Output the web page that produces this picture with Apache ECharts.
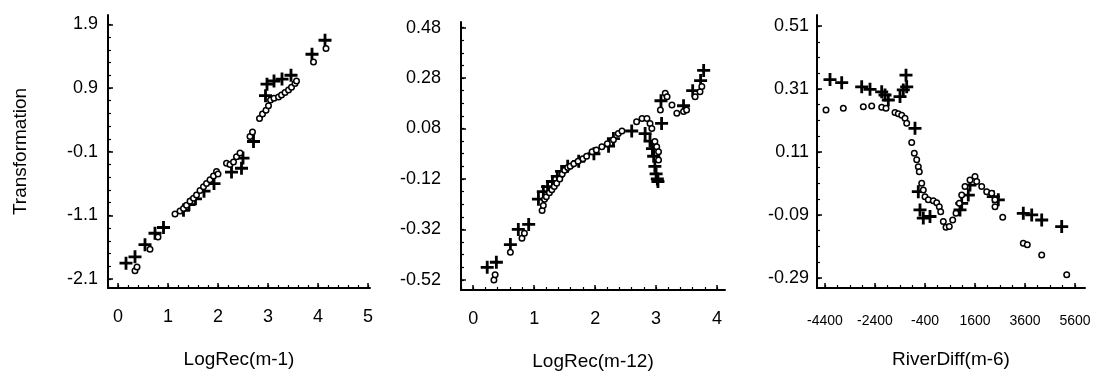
<!DOCTYPE html>
<html>
<head>
<meta charset="utf-8">
<script src="https://cdn.jsdelivr.net/npm/echarts@6/dist/echarts.min.js"></script>
<style>
html,body{margin:0;padding:0;background:#fff;}
#chart{width:1094px;height:379px;}
</style>
</head>
<body>
<div id="chart"></div>
<script>
// ---------- Data ----------
const p1Plus = [[0.16,-1.85],[0.34,-1.75],[0.54,-1.56],[0.74,-1.38],[0.91,-1.29],[1.31,-1.02],[1.42,-0.93],[1.55,-0.84],[1.72,-0.72],[1.92,-0.6],[2.27,-0.42],[2.47,-0.36],[2.5,-0.2],[2.71,0.06],[2.95,0.78],[2.98,0.96],[3.12,1.01],[3.28,1.04],[3.46,1.1],[3.88,1.43],[4.14,1.65]];
const p1Circ = [[0.34,-1.97],[0.38,-1.91],[0.64,-1.63],[0.8,-1.44],[1.14,-1.08],[1.24,-1.03],[1.31,-0.99],[1.37,-0.94],[1.44,-0.88],[1.51,-0.83],[1.57,-0.78],[1.64,-0.71],[1.71,-0.65],[1.77,-0.6],[1.84,-0.54],[1.91,-0.48],[1.97,-0.41],[2.0,-0.45],[2.17,-0.28],[2.24,-0.3],[2.31,-0.26],[2.37,-0.18],[2.44,-0.12],[2.64,0.14],[2.69,0.21],[2.83,0.42],[2.89,0.49],[2.96,0.55],[3.01,0.62],[3.05,0.71],[3.12,0.74],[3.21,0.76],[3.27,0.79],[3.34,0.83],[3.41,0.87],[3.47,0.91],[3.54,0.97],[3.57,1.01],[3.91,1.31],[4.16,1.52]];

const p2Plus = [[0.23,-0.47],[0.38,-0.45],[0.61,-0.38],[0.74,-0.32],[0.91,-0.30],[1.07,-0.2],[1.15,-0.17],[1.22,-0.15],[1.3,-0.13],[1.38,-0.11],[1.45,-0.09],[1.55,-0.07],[1.73,-0.05],[1.98,-0.02],[2.22,0.01],[2.3,0.04],[2.6,0.07],[2.82,0.06],[2.9,0.03],[2.94,0.0],[2.96,-0.03],[2.98,-0.07],[3.0,-0.1],[3.02,-0.12],[3.03,-0.13],[3.09,0.1],[3.08,0.19],[3.45,0.17],[3.6,0.23],[3.73,0.27],[3.78,0.31]];
const p2Circ = [[0.34,-0.52],[0.36,-0.5],[0.61,-0.41],[0.8,-0.355],[0.84,-0.335],[1.13,-0.245],[1.15,-0.225],[1.17,-0.2],[1.2,-0.19],[1.25,-0.175],[1.29,-0.163],[1.33,-0.15],[1.37,-0.137],[1.42,-0.12],[1.46,-0.1],[1.5,-0.085],[1.55,-0.075],[1.59,-0.07],[1.65,-0.06],[1.72,-0.05],[1.8,-0.04],[1.86,-0.03],[1.95,-0.012],[2.02,-0.005],[2.11,0.008],[2.2,0.02],[2.3,0.035],[2.38,0.06],[2.44,0.07],[2.68,0.107],[2.77,0.12],[2.85,0.12],[2.9,0.1],[2.93,0.08],[2.98,0.028],[3.01,0.008],[3.04,-0.012],[3.04,-0.045],[3.07,0.153],[3.15,0.22],[3.18,0.206],[3.26,0.173],[3.34,0.14],[3.45,0.147],[3.5,0.153],[3.64,0.206],[3.72,0.226],[3.75,0.246]];

const p3Plus = [[-4200,0.34],[-3732,0.33],[-2932,0.317],[-2600,0.309],[-2132,0.301],[-2000,0.291],[-1868,0.275],[-1400,0.286],[-1268,0.307],[-1160,0.354],[-1132,0.317],[-800,0.185],[-668,-0.016],[-600,-0.074],[-468,-0.1],[-200,-0.095],[1000,-0.074],[1068,-0.053],[1332,-0.027],[1400,0.005],[2332,-0.032],[2532,-0.042],[3532,-0.085],[3868,-0.09],[4268,-0.106],[5068,-0.127]];
const p3Circ = [[-4360,0.243],[-3668,0.249],[-2868,0.254],[-2532,0.256],[-2132,0.252],[-1960,0.249],[-1600,0.235],[-1468,0.231],[-1332,0.227],[-1200,0.217],[-1132,0.201],[-932,0.14],[-828,0.106],[-732,0.085],[-668,0.063],[-628,0.047],[-532,0.011],[-468,-0.011],[-400,-0.032],[-268,-0.042],[-68,-0.045],[68,-0.051],[172,-0.064],[228,-0.08],[332,-0.111],[440,-0.129],[572,-0.127],[708,-0.106],[840,-0.085],[972,-0.053],[1068,-0.027],[1200,0.0],[1400,0.021],[1600,0.032],[1668,0.016],[1868,0.0],[2068,-0.016],[2268,-0.021],[2400,-0.042],[2400,-0.064],[2708,-0.097],[3532,-0.18],[3692,-0.185],[4268,-0.217],[5268,-0.28]];

const p1XTicks = [0,1,2,3,4,5];
const p1YTicks = [-2.1,-1.1,-0.1,0.9,1.9];
const p2XTicks = [0,1,2,3,4];
const p2YTicks = [-0.52,-0.32,-0.12,0.08,0.28,0.48];
const p3XTicks = [-4400,-2400,-400,1600,3600,5600];
const p3YTicks = [-0.29,-0.09,0.11,0.31,0.51];

const xNames = ['LogRec(m-1)','LogRec(m-12)','RiverDiff(m-6)'];
const yName = 'Transformation';

// ---------- helpers ----------
function minors(ticks, n, lo, hi) {
  const out = [];
  const step = (ticks[1]-ticks[0])/n;
  const start = ticks[0] - step*Math.floor((ticks[0]-lo)/step);
  for (let v = start; v <= hi + 1e-9; v += step) out.push(Math.round(v*1e6)/1e6);
  return out;
}
const FONT = 'Liberation Sans';
const PLUS = 'path://M4.7,0H7.3V4.7H12V7.3H7.3V12H4.7V7.3H0V4.7H4.7Z';
const fmt = v => String(v);

const panels = [
  {grid:{left:108,top:15,width:262,height:273}, x:[-0.2,5.04], y:[-2.24,2.046], xt:p1XTicks, yt:p1YTicks, xn:5, yn:5, xf:18, yf:18, ylm:10, xlm:20, plus:p1Plus, circ:p1Circ},
  {grid:{left:461,top:22,width:264,height:268}, x:[-0.2,4.13], y:[-0.56,0.502], xt:p2XTicks, yt:p2YTicks, xn:5, yn:4, xf:18, yf:18, ylm:20, xlm:20, plus:p2Plus, circ:p2Circ},
  {grid:{left:817,top:15,width:268,height:273}, x:[-4720,6000], y:[-0.322,0.545], xt:p3XTicks, yt:p3YTicks, xn:4, yn:4, xf:14, yf:18, ylm:8, xlm:26, plus:p3Plus, circ:p3Circ}
];

const grid=[], xAxis=[], yAxis=[], series=[];
panels.forEach((p,i)=>{
  grid.push(p.grid);
  const xi = xAxis.length, yi = yAxis.length;
  xAxis.push({
    type:'value', gridIndex:i, position:'bottom', min:p.x[0], max:p.x[1],
    splitLine:{show:false},
    axisLine:{show:true, onZero:false, lineStyle:{color:'#000', width:2}},
    axisTick:{show:true, inside:true, length:5, lineStyle:{color:'#000', width:1.5}, customValues:p.xt},
    axisLabel:{color:'#000', fontFamily:FONT, fontSize:p.xf, margin:p.xlm, customValues:p.xt, formatter:fmt, showMinLabel:true, showMaxLabel:true},
    name:xNames[i], nameLocation:'middle', nameGap:62,
    nameTextStyle:{color:'#000', fontFamily:FONT, fontSize:19}
  });
  xAxis.push({
    type:'value', gridIndex:i, position:'bottom', min:p.x[0], max:p.x[1],
    splitLine:{show:false},
    axisLine:{show:false, onZero:false},
    axisTick:{show:true, inside:true, length:3, lineStyle:{color:'#000', width:1.2}, customValues:minors(p.xt,p.xn,p.x[0],p.x[1])},
    axisLabel:{show:false}
  });
  yAxis.push({
    type:'value', gridIndex:i, position:'left', min:p.y[0], max:p.y[1],
    splitLine:{show:false},
    axisLine:{show:true, onZero:false, lineStyle:{color:'#000', width:2}},
    axisTick:{show:true, inside:true, length:5, lineStyle:{color:'#000', width:1.5}, customValues:p.yt},
    axisLabel:{color:'#000', fontFamily:FONT, fontSize:p.yf, margin:p.ylm, customValues:p.yt, formatter:fmt, showMinLabel:true, showMaxLabel:true},
    name: i===0 ? yName : '', nameLocation:'middle', nameGap:78, nameRotate:90,
    nameTextStyle:{color:'#000', fontFamily:FONT, fontSize:19}
  });
  yAxis.push({
    type:'value', gridIndex:i, position:'left', min:p.y[0], max:p.y[1],
    splitLine:{show:false},
    axisLine:{show:false, onZero:false},
    axisTick:{show:true, inside:true, length:3, lineStyle:{color:'#000', width:1.2}, customValues:minors(p.yt,p.yn,p.y[0],p.y[1])},
    axisLabel:{show:false}
  });
  series.push({
    type:'scatter', xAxisIndex:xi, yAxisIndex:yi, data:p.plus,
    symbol:PLUS, symbolSize:13, itemStyle:{color:'#000', opacity:1}, silent:true, z:2
  });
  series.push({
    type:'scatter', xAxisIndex:xi, yAxisIndex:yi, data:p.circ,
    symbol:'circle', symbolSize:5.5, itemStyle:{color:'#fff', borderColor:'#000', borderWidth:1.5, opacity:1}, silent:true, z:3
  });
});

const chart = echarts.init(document.getElementById('chart'), null, {renderer:'canvas'});
chart.setOption({
  backgroundColor:'#fff',
  animation:false,
  textStyle:{fontFamily:FONT},
  grid, xAxis, yAxis, series
});
</script>
</body>
</html>
